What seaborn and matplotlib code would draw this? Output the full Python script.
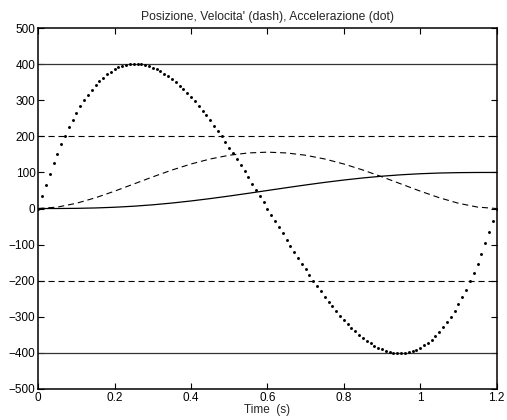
import numpy as np
import pandas as pd
import matplotlib
matplotlib.use("Agg")
import matplotlib.pyplot as plt
import seaborn as sns

# ---- data ----
# position / velocity sampled every 0.05 s
t_pv = [0.00, 0.05, 0.10, 0.15, 0.20, 0.25, 0.30, 0.35, 0.40, 0.45, 0.50, 0.55, 0.60,
        0.65, 0.70, 0.75, 0.80, 0.85, 0.90, 0.95, 1.00, 1.05, 1.10, 1.15, 1.20]
position = [0.0, 0.07, 0.51, 1.61, 3.55, 6.45, 10.35, 15.22, 20.99, 27.52, 34.66, 42.22, 50.0,
            57.78, 65.34, 72.48, 79.01, 84.78, 89.65, 93.55, 96.45, 98.39, 99.49, 99.93, 100.0]
velocity = [0.0, 3.99, 14.59, 29.91, 48.23, 68.00, 87.89, 106.71, 123.46, 137.33, 147.69, 154.09, 156.25,
            154.09, 147.69, 137.33, 123.46, 106.71, 87.89, 68.00, 48.23, 29.91, 14.59, 3.99, 0.0]

# acceleration dots, one every 0.01 s
acc_first = [0.0, 33.9, 66.0, 96.5, 125.3, 152.5, 178.1, 202.2, 224.7, 245.7,
             265.2, 283.3, 300.0, 315.3, 329.2, 341.8, 353.1, 363.1, 371.9, 379.4,
             385.8, 391.0, 395.1, 398.1, 400.0, 400.9, 400.7, 399.6, 397.5, 394.5,
             390.6, 385.9, 380.3, 373.8, 366.6, 358.7, 350.0, 340.6, 330.6, 319.9,
             308.6, 296.8, 284.4, 271.4, 258.0, 244.1, 229.8, 215.1, 200.0, 184.6,
             168.8, 152.7, 136.4, 119.9, 103.1, 86.2, 69.1, 52.0, 34.7, 17.4]
acc_second = [0.0, -17.4, -34.7, -52.0, -69.1, -86.2, -103.1, -119.9, -136.4, -152.7,
              -168.8, -184.6, -200.0, -215.1, -229.8, -244.1, -258.0, -271.4, -284.4, -296.8,
              -308.6, -319.9, -330.6, -340.6, -350.0, -358.7, -366.6, -373.8, -380.3, -385.9,
              -390.6, -394.5, -397.5, -399.6, -400.7, -400.9, -400.0, -398.1, -395.1, -391.0,
              -385.8, -379.4, -371.9, -363.1, -353.1, -341.8, -329.2, -315.3, -300.0, -283.3,
              -265.2, -245.7, -224.7, -202.2, -178.1, -152.5, -125.3, -96.5, -66.0, -33.9, 0.0]
acceleration = acc_first + acc_second
t_acc = [round(0.01 * i, 2) for i in range(len(acceleration))]

acc_limits = [400, -400]
vel_limits = [200, -200]

x_ticks = [0, 0.2, 0.4, 0.6, 0.8, 1.0, 1.2]
x_ticklabels = ["0", "0.2", "0.4", "0.6", "0.8", "1", "1.2"]
y_ticks = [-500, -400, -300, -200, -100, 0, 100, 200, 300, 400, 500]

title = "Posizione, Velocita' (dash), Accelerazione (dot)"
xlabel = "Time  (s)"

# ---- plotting ----
sns.set_style("white")
plt.rcParams["font.family"] = ["Liberation Sans", "DejaVu Sans"]
plt.rcParams["axes.unicode_minus"] = True

fig = plt.figure(figsize=(5.07, 4.20), dpi=100)
ax = fig.add_axes([0.0755, 0.074, 0.904, 0.859])

df_pv = pd.DataFrame({"t": t_pv, "pos": position, "vel": velocity})
df_acc = pd.DataFrame({"t": t_acc, "acc": acceleration})

dash = (0, (5.5, 3.5))
for v in acc_limits:
    ax.axhline(v, color="#333333", lw=0.9, zorder=1)
for v in vel_limits:
    ax.axhline(v, color="black", lw=0.8, ls=dash, zorder=1)

sns.lineplot(data=df_pv, x="t", y="pos", ax=ax, color="black", lw=0.9)
sns.lineplot(data=df_pv, x="t", y="vel", ax=ax, color="black", lw=0.8)
ax.lines[-1].set_linestyle(dash)
sns.scatterplot(data=df_acc, x="t", y="acc", ax=ax, color="black", s=4.5,
                linewidth=0, marker="o", zorder=3)

ax.set_xlim(0, 1.2)
ax.set_ylim(-500, 500)
ax.set_xticks(x_ticks)
ax.set_xticklabels(x_ticklabels)
ax.set_yticks(y_ticks)
ax.tick_params(direction="in", length=4, width=0.8, labelsize=8.5,
               top=True, right=True, bottom=True, left=True, pad=2, colors="black")
for s in ax.spines.values():
    s.set_linewidth(1.1)
    s.set_color("black")
    s.set_visible(True)

ax.set_title(title, fontsize=8.7, pad=6)
ax.set_xlabel(xlabel, fontsize=8.5, labelpad=0)
ax.set_ylabel("")

fig.savefig("out.png", dpi=100)
